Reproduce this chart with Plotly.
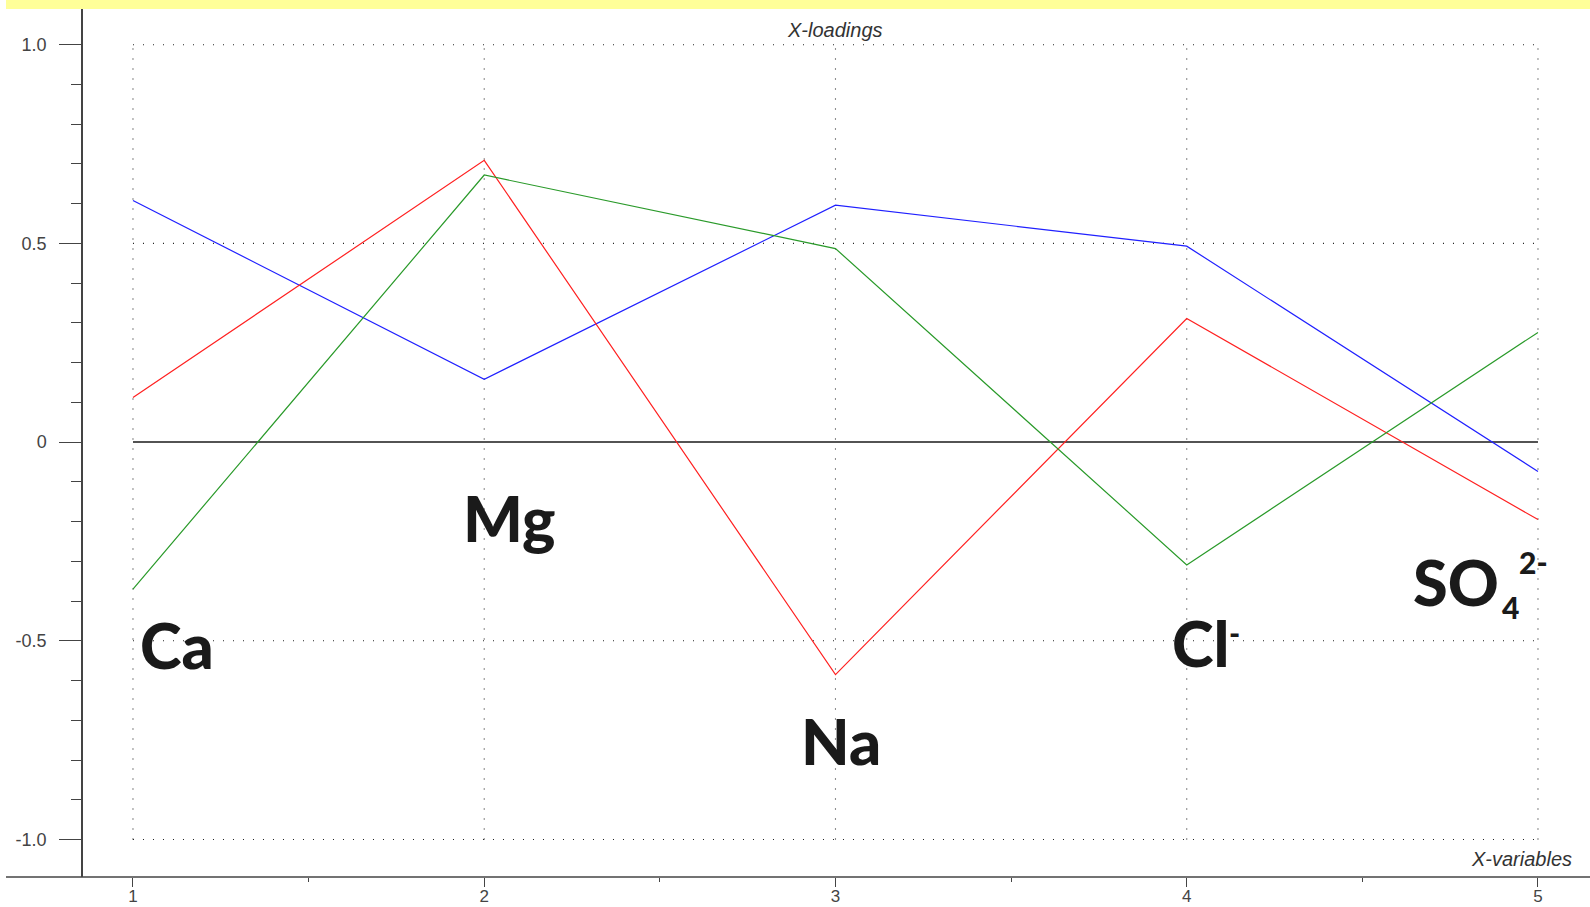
import plotly.graph_objects as go

# X-variables (1..5) and loadings of the three components
variables = [1, 2, 3, 4, 5]
pc1 = [0.608, 0.158, 0.596, 0.493, -0.074]   # blue
pc2 = [0.112, 0.709, -0.585, 0.311, -0.195]  # red
pc3 = [-0.370, 0.672, 0.487, -0.309, 0.276]  # green

y_ticks = [-1.0, -0.5, 0, 0.5, 1.0]
y_tick_text = ["-1.0", "-0.5", "0", "0.5", "1.0"]
x_tick_text = ["1", "2", "3", "4", "5"]

W, H = 1590, 907
ML, MR, MT, MB = 83, 0, 9, 30
PW, PH = W - ML - MR, H - MT - MB

X_RANGE = [0.8577, 5.1481]
Y_RANGE = [-1.0944, 1.0898]

fig = go.Figure()

series = [(pc1, "#2020ff", "Factor-1"), (pc2, "#ff2020", "Factor-2"), (pc3, "#2a9a2a", "Factor-3")]
for vals, col, name in series:
    fig.add_trace(go.Scatter(x=variables, y=vals, mode="lines", name=name,
                             line=dict(color=col, width=1.2), showlegend=False,
                             hoverinfo="skip"))

shapes = []
# dotted grid restricted to the data frame
for xv in variables:
    shapes.append(dict(type="line", xref="x", yref="y", x0=xv, x1=xv,
                       y0=min(y_ticks), y1=max(y_ticks), layer="below",
                       line=dict(color="#222222", width=1.1, dash="1px,9px")))
for yv in y_ticks:
    if yv == 0:
        continue
    shapes.append(dict(type="line", xref="x", yref="y", x0=min(variables), x1=max(variables),
                       y0=yv, y1=yv, layer="below",
                       line=dict(color="#222222", width=1.1, dash="1px,9px")))
# solid zero line
shapes.append(dict(type="line", xref="x", yref="y", x0=min(variables), x1=max(variables),
                   y0=0, y1=0, layer="below", line=dict(color="#1a1a1a", width=1.5)))
# bottom axis line extending past the vertical axis
shapes.append(dict(type="line", xref="paper", yref="paper", x0=(6 - ML) / PW, x1=1,
                   y0=0, y1=0, line=dict(color="#444444", width=1.5)))
# yellow strip along the top
shapes.append(dict(type="rect", xref="paper", yref="paper", x0=(6 - ML) / PW, x1=1,
                   y0=1, y1=1 + MT / PH, line=dict(width=0), fillcolor="#ffff99"))

label_font = dict(family="Lato", size=63, color="#1a1a1a", weight=900)
small_font = dict(family="Lato", size=30, color="#1a1a1a", weight=900)
axis_font = dict(family="Liberation Sans", size=20, color="#333333", style="italic")

annotations = [
    dict(text="Ca", x=1.124, y=-0.509, font=label_font),
    dict(text="Mg", x=2.070, y=-0.190, font=label_font),
    dict(text="Na", x=3.016, y=-0.751, font=label_font),
    dict(text="Cl", x=4.040, y=-0.504, font=label_font),
    dict(text="-", x=4.135, y=-0.480, font=small_font),
    dict(text="SO", x=4.768, y=-0.352, font=label_font),
    dict(text="4", x=4.921, y=-0.416, font=small_font),
    dict(text="2-", x=4.987, y=-0.301, font=small_font),
    dict(text="X-loadings", x=3, y=1.037, font=axis_font),
]
for a in annotations:
    a.update(xref="x", yref="y", showarrow=False, xanchor="center", yanchor="middle")
annotations.append(dict(text="X-variables", xref="paper", yref="paper",
                        x=(1574 - ML) / PW, y=18 / PH, xanchor="right",
                        yanchor="middle", showarrow=False, font=axis_font))

fig.update_layout(
    width=W, height=H,
    margin=dict(l=ML, r=MR, t=MT, b=MB, pad=0, autoexpand=False),
    paper_bgcolor="white", plot_bgcolor="white",
    shapes=shapes, annotations=annotations,
    xaxis=dict(range=X_RANGE, showgrid=False, zeroline=False, showline=False,
               automargin=False,
               tickmode="array", tickvals=variables, ticktext=x_tick_text,
               ticks="outside", ticklen=9, tickwidth=1.3, tickcolor="#444444",
               ticklabelstandoff=-5,
               tickfont=dict(family="Liberation Sans", size=17, color="#444444"),
               minor=dict(tickmode="linear", tick0=1.5, dtick=1, ticks="outside",
                          ticklen=4, tickwidth=1.3, tickcolor="#444444")),
    yaxis=dict(range=Y_RANGE, showgrid=False, zeroline=False, showline=True,
               automargin=False,
               linecolor="#444444", linewidth=1.5,
               tickmode="array", tickvals=y_ticks, ticktext=y_tick_text,
               ticks="outside", ticklen=22, tickwidth=1.3, tickcolor="#444444",
               ticklabelstandoff=9,
               tickfont=dict(family="Liberation Sans", size=18, color="#444444"),
               minor=dict(tickmode="linear", tick0=0, dtick=0.1, ticks="outside",
                          ticklen=10, tickwidth=1.3, tickcolor="#444444")),
)

fig.write_html("out.html")
